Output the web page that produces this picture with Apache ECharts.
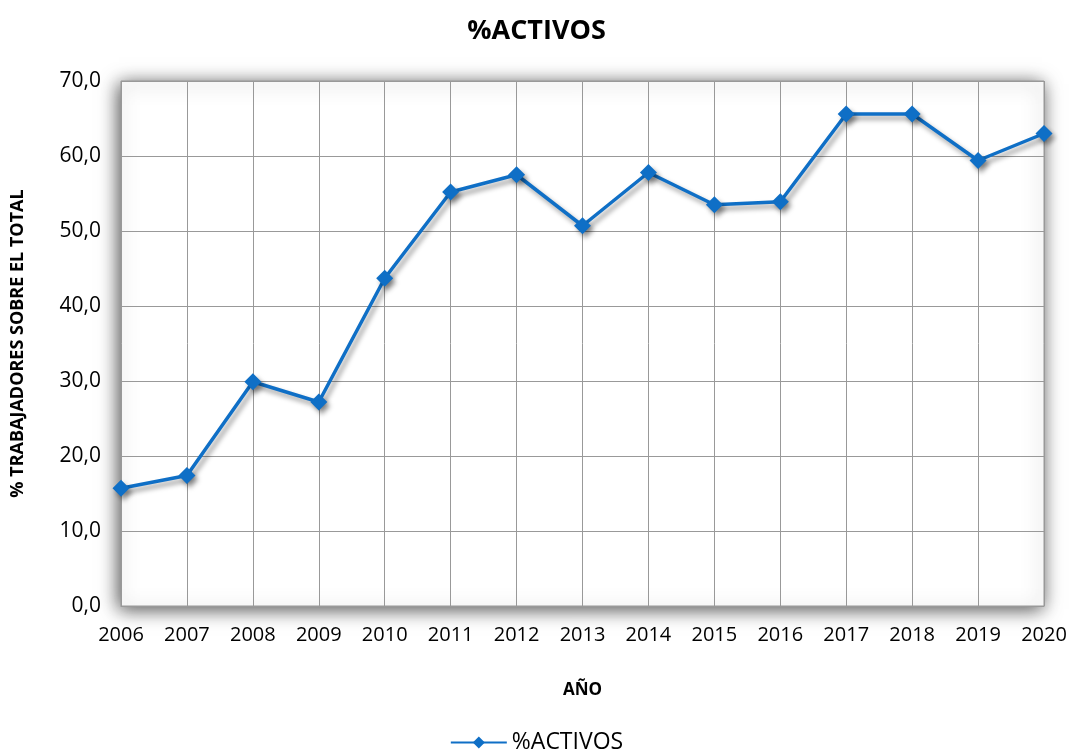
<!DOCTYPE html>
<html>
<head>
<meta charset="utf-8">
<script src="https://cdn.jsdelivr.net/npm/echarts@6/dist/echarts.min.js"></script>
<style>
html,body{margin:0;padding:0;background:#fff;}
#chart{width:1073px;height:752px;}
</style>
</head>
<body>
<div id="chart"></div>
<script>
let years = ['2006','2007','2008','2009','2010','2011','2012','2013','2014','2015','2016','2017','2018','2019','2020'];
let activos = [15.7,17.4,29.9,27.2,43.7,55.2,57.5,50.7,57.8,53.5,53.9,65.6,65.6,59.4,63.0];

let myChart = echarts.init(document.getElementById('chart'));
let font = 'Open Sans';
let option = {
    title: {
        text: '%ACTIVOS',
        left: 'center',
        top: 13,
        textStyle: {fontFamily: font, fontSize: 27, fontWeight: 'bold', color: '#000'}
    },
    legend: {
        data: ['%ACTIVOS'],
        top: 726,
        left: 'center',
        itemWidth: 56,
        itemHeight: 15,
        itemGap: 4,
        textStyle: {fontFamily: font, fontSize: 23, color: '#000'}
    },
    grid: {
        left: 121,
        right: 29,
        top: 81,
        bottom: 146,
        outerBoundsMode: 'none',
        show: true,
        backgroundColor: '#fff',
        borderColor: '#999',
        borderWidth: 1,
        shadowColor: 'rgba(0,0,0,0.7)',
        shadowBlur: 18,
        shadowOffsetX: -2,
        shadowOffsetY: 3
    },
    xAxis: {
        type: 'category',
        data: years,
        boundaryGap: false,
        name: 'AÑO',
        nameLocation: 'middle',
        nameGap: 76,
        nameTextStyle: {fontFamily: font, fontSize: 17, fontWeight: 'bold', color: '#000'},
        axisLine: {lineStyle: {color: '#999'}},
        axisTick: {show: false},
        axisLabel: {fontFamily: font, fontSize: 20, color: '#000', margin: 19},
        splitLine: {show: true, lineStyle: {color: '#999', width: 1}}
    },
    yAxis: {
        type: 'value',
        min: 0,
        max: 70,
        interval: 10,
        name: '% TRABAJADORES SOBRE EL TOTAL',
        nameLocation: 'middle',
        nameGap: 94,
        nameTextStyle: {fontFamily: font, fontSize: 18, fontWeight: 'bold', color: '#000'},
        axisLine: {show: false},
        axisTick: {show: false},
        axisLabel: {
            fontFamily: font, fontSize: 21, color: '#000', margin: 20,
            formatter: (v)=>v.toFixed(1).replace('.', ',')
        },
        splitLine: {lineStyle: {color: '#999', width: 1}}
    },
    series: [
        {
            name: '%ACTIVOS',
            type: 'line',
            data: activos,
            symbol: 'diamond',
            symbolSize: 17,
            color: '#0f6fc6',
            lineStyle: {
                width: 3.5,
                color: '#0f6fc6',
                shadowColor: 'rgba(0,0,0,0.4)',
                shadowBlur: 5,
                shadowOffsetX: 3,
                shadowOffsetY: 4
            },
            itemStyle: {
                color: '#0f6fc6',
                shadowColor: 'rgba(0,0,0,0.4)',
                shadowBlur: 5,
                shadowOffsetX: 3,
                shadowOffsetY: 4
            }
        }
    ]
};
myChart.setOption(option);
</script>
</body>
</html>
